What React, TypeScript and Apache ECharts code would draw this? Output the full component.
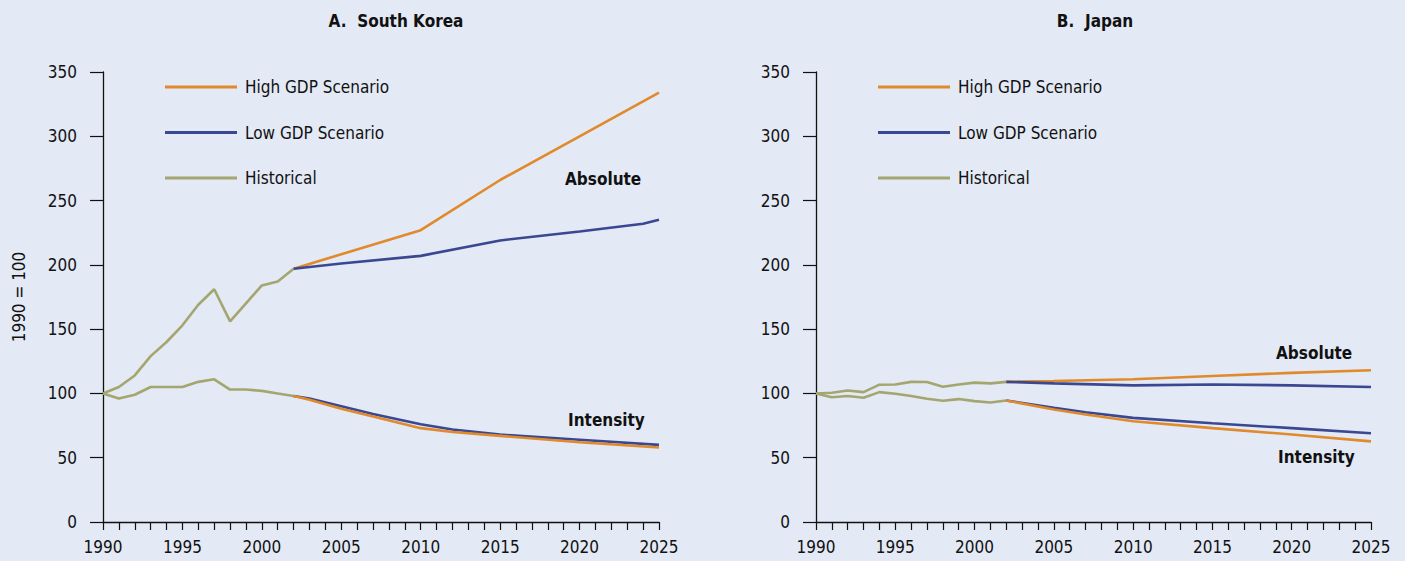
import React, { useEffect, useRef } from "react";
import * as echarts from "echarts";

// ---------- Data ----------
const histYears = [1990, 1991, 1992, 1993, 1994, 1995, 1996, 1997, 1998, 1999, 2000, 2001, 2002];
const krHistAbs = [100, 105, 114, 129, 140, 153, 169, 181, 156, 170, 184, 187, 197];
const krHistInt = [100, 96, 99, 105, 105, 105, 109, 111, 103, 103, 102, 100, 98];

const krAbsYears = [2002, 2010, 2015, 2020, 2025];
const krHighAbs = [197, 227, 266, 300, 334];
const krLowAbsYears = [2002, 2005, 2010, 2015, 2020, 2024, 2025];
const krLowAbs = [197, 201, 207, 219, 226, 232, 235];
const krIntYears = [2002, 2003, 2005, 2007, 2010, 2012, 2015, 2020, 2025];
const krHighInt = [98, 95, 88, 82, 73, 70, 67, 62, 58];
const krLowInt = [98, 96, 90, 84, 76, 72, 68, 64, 60];

const jpHistAbs = [100, 100.5, 102.3, 101, 106.8, 107, 109, 108.9, 105.2, 107, 108.4, 107.8, 109];
const jpHistInt = [100, 97, 98, 96.6, 101, 99.7, 98, 95.8, 94.3, 95.6, 94, 93, 94.5];

const jpProjYears = [2002, 2005, 2010, 2015, 2020, 2025];
const jpHighAbs = [109, 109.7, 111, 113.6, 116, 118];
const jpLowAbs = [109, 107.8, 106.3, 107, 106.3, 105];
const jpIntYears = [2002, 2005, 2007, 2010, 2015, 2020, 2025];
const jpHighInt = [94.5, 87.5, 83.6, 78.3, 73, 68, 62.7];
const jpLowInt = [94.5, 88.8, 85.4, 81, 76.8, 73, 69];

const legendNames = ["High GDP Scenario", "Low GDP Scenario", "Historical"];
const yTicks = { min: 0, max: 350, interval: 50 };
const xTicks = { min: 1990, max: 2025, interval: 5 };

// ---------- Styles ----------
const ORANGE = "#e08a2b";
const NAVY = "#3a4791";
const OLIVE = "#a4a66f";
const BG = "#e3e9f5";
const FONT = "'DejaVu Sans Condensed', 'Liberation Sans Narrow', 'Liberation Sans', sans-serif";

const pairs = (xs: number[], ys: number[]) => xs.map((x, i) => [x, ys[i]]);

function lineSeries(name: string, idx: number, data: number[][], color: string) {
  return {
    type: "line",
    name,
    xAxisIndex: idx,
    yAxisIndex: idx,
    data,
    symbol: "none",
    smooth: false,
    lineStyle: { color, width: 2.6 },
    itemStyle: { color },
    z: color === OLIVE ? 2 : 3,
  };
}

function xAxis(idx: number) {
  return {
    type: "value",
    gridIndex: idx,
    min: xTicks.min,
    max: xTicks.max,
    interval: xTicks.interval,
    axisLine: { show: true, onZero: false, lineStyle: { color: "#111", width: 1.3 } },
    axisTick: { show: true, length: 8, lineStyle: { color: "#111", width: 1.2 } },
    minorTick: { show: true, splitNumber: 5, length: 8, lineStyle: { color: "#111", width: 1.2 } },
    splitLine: { show: false },
    axisLabel: { color: "#111", fontSize: 17, fontFamily: FONT, margin: 16, formatter: (v: number) => String(v) },
  };
}

function yAxis(idx: number, name: string) {
  return {
    type: "value",
    gridIndex: idx,
    min: yTicks.min,
    max: yTicks.max,
    interval: yTicks.interval,
    name,
    nameLocation: "middle",
    nameGap: 76,
    nameRotate: 90,
    nameTextStyle: { color: "#111", fontSize: 17, fontFamily: FONT },
    axisLine: { show: true, lineStyle: { color: "#111", width: 1.3 } },
    axisTick: { show: true, length: 13, lineStyle: { color: "#111", width: 1.2 } },
    splitLine: { show: false },
    axisLabel: { color: "#111", fontSize: 17, fontFamily: FONT, margin: 26 },
  };
}

function legend(left: number) {
  return {
    orient: "vertical",
    left,
    top: 72,
    data: legendNames,
    icon: "rect",
    itemWidth: 72,
    itemHeight: 3,
    itemGap: 25.5,
    selectedMode: false,
    textStyle: { color: "#111", fontSize: 17, fontFamily: FONT, lineHeight: 20, padding: [0, 0, 0, 3] },
  };
}

function label(text: string, x: number, y: number) {
  return {
    type: "text",
    x,
    y,
    style: { text, fill: "#111", font: `bold 17px ${FONT}`, textVerticalAlign: "middle" },
  };
}

export default function App() {
  const ref = useRef<HTMLDivElement>(null);
  useEffect(() => {
    if (!ref.current) return;
    const chart = echarts.init(ref.current, undefined, { renderer: "svg" });
    chart.setOption({
      animation: false,
      backgroundColor: BG,
      textStyle: { fontFamily: FONT },
      title: [
        { text: "A.  South Korea", left: 391, top: 7, textAlign: "center", textStyle: { fontSize: 17, fontWeight: "bold", color: "#111", fontFamily: FONT } },
        { text: "B.  Japan", left: 1090, top: 7, textAlign: "center", textStyle: { fontSize: 17, fontWeight: "bold", color: "#111", fontFamily: FONT } },
      ],
      legend: [legend(160), legend(873)],
      grid: [
        { left: 103, right: 746, top: 72, bottom: 39 },
        { left: 816, right: 34, top: 72, bottom: 39 },
      ],
      xAxis: [xAxis(0), xAxis(1)],
      yAxis: [yAxis(0, "1990 = 100"), yAxis(1, "")],
      series: [
        lineSeries("Historical", 0, pairs(histYears, krHistAbs), OLIVE),
        lineSeries("Historical", 0, pairs(histYears, krHistInt), OLIVE),
        lineSeries("High GDP Scenario", 0, pairs(krAbsYears, krHighAbs), ORANGE),
        lineSeries("Low GDP Scenario", 0, pairs(krLowAbsYears, krLowAbs), NAVY),
        lineSeries("Low GDP Scenario", 0, pairs(krIntYears, krLowInt), NAVY),
        lineSeries("High GDP Scenario", 0, pairs(krIntYears, krHighInt), ORANGE),
        lineSeries("Historical", 1, pairs(histYears, jpHistAbs), OLIVE),
        lineSeries("Historical", 1, pairs(histYears, jpHistInt), OLIVE),
        lineSeries("High GDP Scenario", 1, pairs(jpProjYears, jpHighAbs), ORANGE),
        lineSeries("Low GDP Scenario", 1, pairs(jpProjYears, jpLowAbs), NAVY),
        lineSeries("Low GDP Scenario", 1, pairs(jpIntYears, jpLowInt), NAVY),
        lineSeries("High GDP Scenario", 1, pairs(jpIntYears, jpHighInt), ORANGE),
      ],
      graphic: [
        label("Absolute", 565, 179),
        label("Intensity", 568, 420),
        label("Absolute", 1276, 353),
        label("Intensity", 1278, 457),
      ],
    });
    return () => chart.dispose();
  }, []);
  return <div ref={ref} style={{ position: "fixed", left: 0, top: 0, width: 1405, height: 561 }} />;
}
